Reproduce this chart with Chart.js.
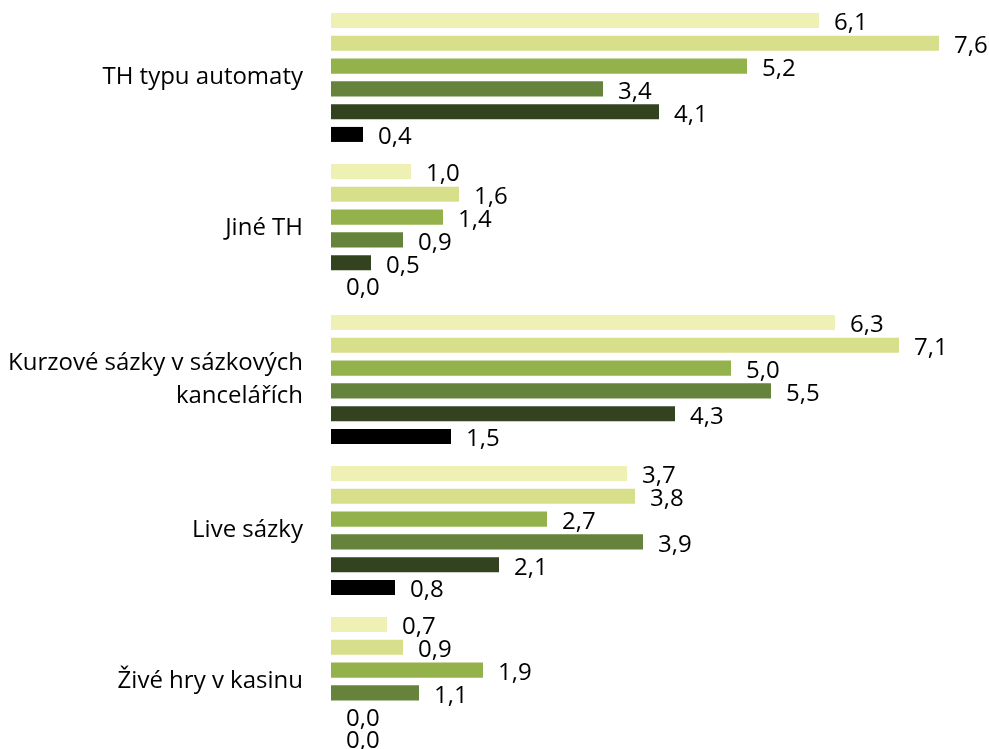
<!DOCTYPE html>
<html><head><meta charset="utf-8">
<script src="https://cdn.jsdelivr.net/npm/chart.js@4/dist/chart.umd.min.js"></script>
<style>html,body{margin:0;padding:0;background:#fff;overflow:hidden;}</style>
</head><body>
<canvas id="c" width="989" height="757"></canvas>
<script>
const categories = ["TH typu automaty", "Jiné TH", ["Kurzové sázky v sázkových", "kancelářích"], "Live sázky", "Živé hry v kasinu"];
const seriesNames = ["Řada 1", "Řada 2", "Řada 3", "Řada 4", "Řada 5", "Řada 6"];
const series1 = [6.1, 1.0, 6.3, 3.7, 0.7];
const series2 = [7.6, 1.6, 7.1, 3.8, 0.9];
const series3 = [5.2, 1.4, 5.0, 2.7, 1.9];
const series4 = [3.4, 0.9, 5.5, 3.9, 1.1];
const series5 = [4.1, 0.5, 4.3, 2.1, 0.0];
const series6 = [0.4, 0.0, 1.5, 0.8, 0.0];
const colors = ["#EFF0B3", "#D8DF8A", "#94B24C", "#66833C", "#33431F", "#000000"];
const allSeries = [series1, series2, series3, series4, series5, series6];
const FONT = "'Open Sans', 'Noto Sans', sans-serif";

const labelPlugin = {
  id: 'valLabels',
  afterDatasetsDraw(chart) {
    const ctx = chart.ctx;
    ctx.save();
    ctx.font = "24px " + FONT;
    ctx.fillStyle = "#000";
    ctx.textAlign = "left";
    ctx.textBaseline = "middle";
    chart.data.datasets.forEach((ds, i) => {
      const meta = chart.getDatasetMeta(i);
      meta.data.forEach((el, j) => {
        const v = ds.data[j];
        ctx.fillText(v.toFixed(1).replace('.', ','), el.x + 15, el.y + 3);
      });
    });
    ctx.restore();
  }
};

new Chart(document.getElementById('c'), {
  type: 'bar',
  data: {
    labels: categories,
    datasets: allSeries.map((d, i) => ({
      label: seriesNames[i],
      data: d,
      backgroundColor: colors[i],
      borderWidth: 0,
      categoryPercentage: 0.905,
      barPercentage: 0.66
    }))
  },
  options: {
    indexAxis: 'y',
    responsive: false,
    animation: false,
    devicePixelRatio: 1,
    layout: { padding: { top: 2, right: 18, bottom: 0, left: 0 } },
    plugins: { legend: { display: false }, tooltip: { enabled: false } },
    scales: {
      x: { min: 0, max: 8, display: false },
      y: {
        grid: { display: false },
        border: { display: false },
        ticks: { color: "#000", font: { family: FONT, size: 24, lineHeight: 1.35 }, padding: 20, autoSkip: false },
        afterFit(scale) { scale.width = 331; scale.paddingTop = 0; scale.paddingBottom = 0; }
      }
    }
  },
  plugins: [labelPlugin]
});
</script>
</body></html>
